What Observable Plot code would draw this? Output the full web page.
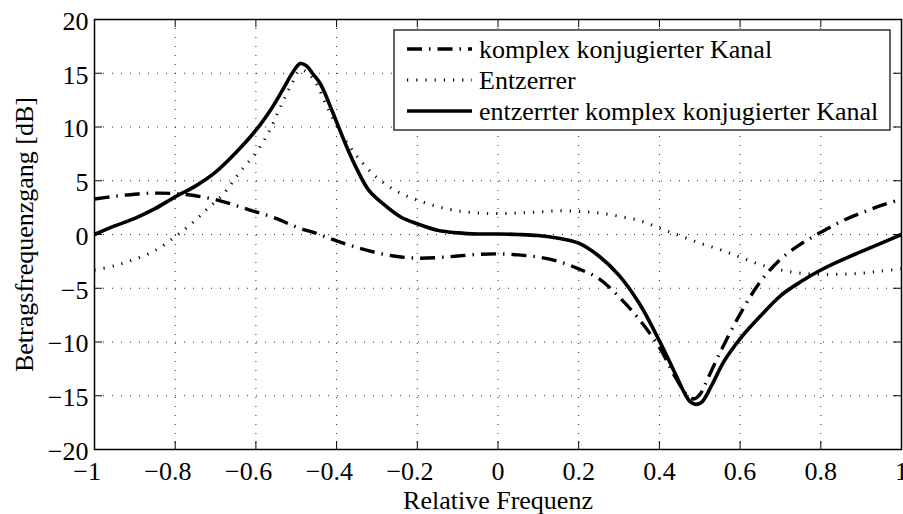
<!DOCTYPE html>
<html><head><meta charset="utf-8">
<script src="https://cdn.jsdelivr.net/npm/d3@7"></script>
<script src="https://cdn.jsdelivr.net/npm/@observablehq/plot@0.6"></script>
<style>
body{margin:0;background:#fff}
svg{font-family:"Liberation Serif","Times New Roman",serif}
</style>
</head><body><div id="chart"></div>
<script>
const seriesNames = ["komplex konjugierter Kanal", "Entzerrer", "entzerrter komplex konjugierter Kanal"];
const xTicks = [-1, -0.8, -0.6, -0.4, -0.2, 0, 0.2, 0.4, 0.6, 0.8, 1];
const yTicks = [-20, -15, -10, -5, 0, 5, 10, 15, 20];
const xLabel = "Relative Frequenz";
const yLabel = "Betragsfrequenzgang [dB]";

// komplex konjugierter Kanal (dash-dot)
const kanal = [
  [-1, 3.3], [-0.95, 3.55], [-0.9, 3.75], [-0.85, 3.85], [-0.8, 3.8], [-0.75, 3.6],
  [-0.7, 3.25], [-0.65, 2.7], [-0.6, 2.1], [-0.55, 1.5], [-0.5, 0.7], [-0.45, 0.1],
  [-0.4, -0.6], [-0.35, -1.2], [-0.3, -1.7], [-0.25, -2.05], [-0.2, -2.2], [-0.15, -2.15],
  [-0.1, -2.0], [-0.05, -1.85], [0, -1.8], [0.05, -1.9], [0.1, -2.1], [0.15, -2.5],
  [0.2, -3.2], [0.25, -4.1], [0.3, -5.8], [0.35, -7.9], [0.4, -10.5], [0.44, -13.3],
  [0.47, -15.0], [0.485, -15.3], [0.5, -14.9], [0.52, -13.4], [0.55, -11.0], [0.6, -7.4],
  [0.65, -4.4], [0.7, -2.3], [0.75, -0.9], [0.8, 0.2], [0.85, 1.2], [0.9, 2.0],
  [0.95, 2.7], [1.0, 3.3]
];

// Entzerrer (dotted)
const entzerrer = [
  [-1, -3.3], [-0.95, -2.9], [-0.9, -2.3], [-0.85, -1.5], [-0.8, -0.2], [-0.76, 1.0],
  [-0.72, 2.4], [-0.68, 3.8], [-0.64, 5.8], [-0.6, 7.6], [-0.57, 9.4], [-0.54, 11.8],
  [-0.51, 14.1], [-0.49, 15.3], [-0.47, 15.0], [-0.45, 14.0], [-0.42, 11.6], [-0.39, 9.5],
  [-0.35, 7.3], [-0.3, 5.3], [-0.25, 4.0], [-0.2, 3.2], [-0.15, 2.6], [-0.1, 2.2],
  [-0.05, 2.0], [0, 1.95], [0.05, 2.0], [0.1, 2.1], [0.15, 2.2], [0.2, 2.15],
  [0.25, 2.0], [0.3, 1.7], [0.35, 1.3], [0.4, 0.6], [0.45, -0.1], [0.5, -0.8],
  [0.55, -1.4], [0.6, -2.1], [0.65, -2.8], [0.7, -3.3], [0.75, -3.6], [0.8, -3.7],
  [0.85, -3.7], [0.9, -3.6], [0.95, -3.4], [1.0, -3.2]
];

// entzerrter komplex konjugierter Kanal (solid)
const entzerrt = [
  [-1, 0], [-0.95, 0.8], [-0.9, 1.5], [-0.85, 2.4], [-0.8, 3.5], [-0.75, 4.5],
  [-0.7, 5.8], [-0.65, 7.6], [-0.6, 9.7], [-0.56, 11.8], [-0.53, 13.7], [-0.51, 15.0],
  [-0.49, 15.9], [-0.475, 15.7], [-0.46, 15.0], [-0.44, 14.0], [-0.41, 11.4], [-0.38, 8.6],
  [-0.35, 6.1], [-0.32, 4.1], [-0.28, 2.7], [-0.24, 1.6], [-0.2, 1.0], [-0.15, 0.4],
  [-0.1, 0.15], [-0.05, 0.05], [0, 0.05], [0.05, 0.0], [0.1, -0.1], [0.15, -0.35],
  [0.2, -0.8], [0.25, -2.0], [0.3, -3.8], [0.35, -6.4], [0.4, -9.9], [0.44, -13.0],
  [0.46, -14.6], [0.475, -15.5], [0.49, -15.8], [0.505, -15.6], [0.53, -14.0], [0.56, -11.8],
  [0.6, -9.7], [0.65, -7.6], [0.7, -5.7], [0.75, -4.4], [0.8, -3.3], [0.85, -2.4],
  [0.9, -1.6], [0.95, -0.8], [1.0, 0]
];

const seriesData = [kanal, entzerrer, entzerrt];
const lineStyles = [
  {strokeWidth: 3.4, strokeDasharray: "15,7,1.5,7"},
  {strokeWidth: 3, strokeDasharray: "1.2,8"},
  {strokeWidth: 3.6, strokeDasharray: null}
];

const fmt = d => (d < 0 ? "\u2212" : "") + Math.abs(d);
const FS = 26;
const tickLen = 8;
const W = 903, H = 514, ML = 94, MR = 2, MT = 19, MB = 65;
const frameW = W - ML - MR, frameH = H - MT - MB;

const gridStyle = {stroke: "#000", strokeOpacity: 0.85, strokeWidth: 1, strokeDasharray: "1,8"};

const marks = [
  Plot.gridX(xTicks, gridStyle),
  Plot.gridY(yTicks, gridStyle),
  ...seriesData.map((s, i) => Plot.line(s, {
    x: d => d[0], y: d => d[1], curve: "catmull-rom", stroke: "#000",
    strokeLinecap: "butt", strokeLinejoin: "round", ...lineStyles[i]
  })),
  Plot.frame({stroke: "#000", strokeWidth: 1.5}),
  Plot.tickX(xTicks, {x: d => d, stroke: "#000", insetTop: frameH - tickLen}),
  Plot.tickX(xTicks, {x: d => d, stroke: "#000", insetBottom: frameH - tickLen}),
  Plot.tickY(yTicks, {y: d => d, stroke: "#000", insetRight: frameW - tickLen}),
  Plot.tickY(yTicks, {y: d => d, stroke: "#000", insetLeft: frameW - tickLen}),
  Plot.text(yTicks, {y: d => d, text: fmt, frameAnchor: "left", textAnchor: "end", dx: -6, dy: 2, fontSize: FS, fill: "#000"}),
  Plot.text(xTicks.filter(d => d < 0), {x: d => d, text: fmt, frameAnchor: "bottom", lineAnchor: "top", textAnchor: "middle", dy: 12, dx: -7.3, fontSize: FS, fill: "#000"}),
  Plot.text(xTicks.filter(d => d >= 0), {x: d => d, text: fmt, frameAnchor: "bottom", lineAnchor: "top", textAnchor: "middle", dy: 12, fontSize: FS, fill: "#000"}),
  Plot.text([xLabel], {text: d => d, frameAnchor: "bottom", lineAnchor: "top", textAnchor: "middle", dy: 41, fontSize: FS, fill: "#000"}),
  Plot.text([yLabel], {text: d => d, frameAnchor: "left", textAnchor: "middle", rotate: -90, dx: -70, fontSize: FS, fill: "#000"})
];

const svg = Plot.plot({
  width: W, height: H,
  marginLeft: ML, marginRight: MR, marginTop: MT, marginBottom: MB,
  x: {domain: [-1, 1], axis: null},
  y: {domain: [-20, 20], axis: null},
  style: {background: "#fff", fontFamily: '"Liberation Serif","Times New Roman",serif', fontSize: FS + "px", overflow: "visible"},
  marks
});

// Legend inside the plot (upper right)
const lg = d3.select(svg).append("g");
const box = {x: 394, y: 30, w: 496, h: 100};
lg.append("rect").attr("x", box.x).attr("y", box.y).attr("width", box.w).attr("height", box.h)
  .attr("fill", "#fff").attr("stroke", "#000").attr("stroke-width", 1.2);
seriesNames.forEach((name, i) => {
  const base = 58 + i * 31;
  lg.append("line").attr("x1", 407).attr("x2", 472).attr("y1", base - 9).attr("y2", base - 9)
    .attr("stroke", "#000").attr("stroke-width", lineStyles[i].strokeWidth)
    .attr("stroke-dasharray", lineStyles[i].strokeDasharray);
  lg.append("text").attr("x", 479).attr("y", base).attr("font-size", FS)
    .attr("text-anchor", "start").attr("fill", "#000").text(name);
});

document.getElementById("chart").appendChild(svg);
</script>
</body></html>
